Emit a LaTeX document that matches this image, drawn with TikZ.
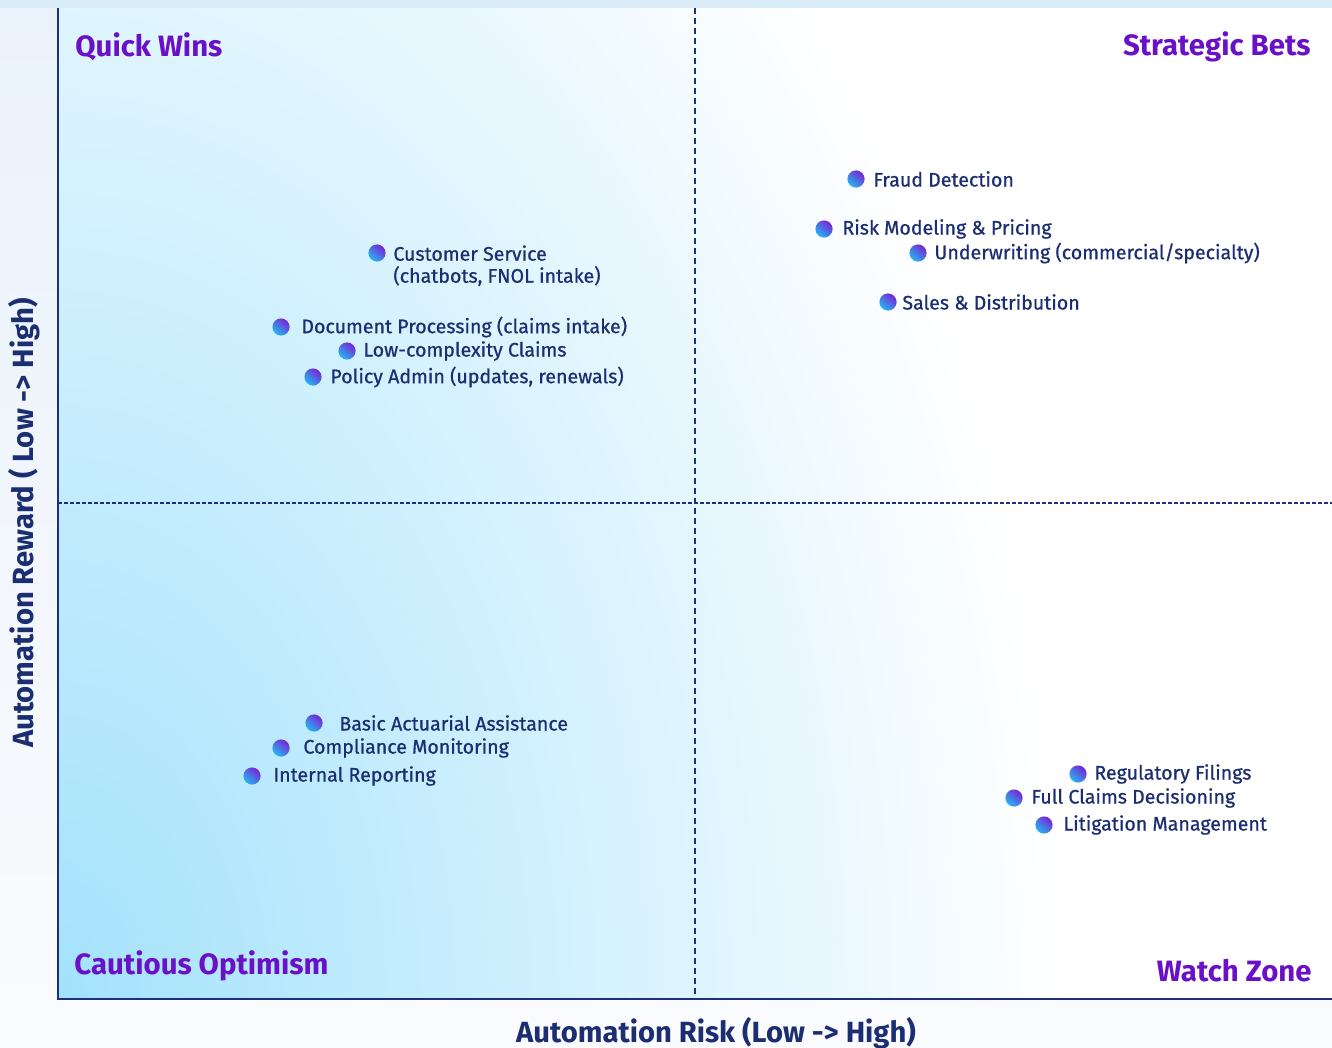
\documentclass[tikz,border=0pt]{standalone}
\usepackage{fontspec}
\setmainfont{Fira Sans}
\usepackage{tikz}
\usetikzlibrary{positioning, arrows.meta, fit, shapes}

\definecolor{navy}{HTML}{1B2E72}
\definecolor{linenavy}{HTML}{1E2F7E}
\definecolor{quadpurple}{HTML}{6A10C6}
\definecolor{skyfill}{HTML}{A3E2FC}
\definecolor{pagetop}{HTML}{EAF2FB}
\definecolor{pagebot}{HTML}{FAFBFE}
\definecolor{topband}{HTML}{D9ECF8}
\definecolor{dotcyan}{HTML}{22B8F2}
\definecolor{dotpurple}{HTML}{7B22D4}

\tikzset{
    bubble/.style={circle, inner sep=0pt, minimum size=8.6pt, top color=dotpurple, bottom color=dotcyan, shading angle=-40},
    item/.style={anchor=west, inner sep=0pt, text=navy, font=\fontsize{9.8}{11}\selectfont\addfontfeatures{FakeBold=0.7}},
    quadtitle/.style={inner sep=0pt, text=quadpurple, font=\fontsize{14.7}{16}\selectfont\bfseries},
    axislabel/.style={inner sep=0pt, text=navy, font=\fontsize{14.6}{17}\selectfont\bfseries}
}

\begin{document}
\begin{tikzpicture}[x=0.5pt, y=-0.5pt]
        \useasboundingbox (0,0) rectangle (1332,1048);
        \shade[top color=pagetop, bottom color=pagebot] (0,0) rectangle (1332,1048);

        % plot area
        \begin{scope}
            \clip (58,8) rectangle (1332,999);
            \fill[white] (58,8) rectangle (1332,999);
            \shade[inner color=skyfill, outer color=white] (58,999) ellipse [x radius=1000, y radius=1500];
        \end{scope}
        \fill[topband] (0,0) rectangle (1332,8);

        \coordinate (origin) at (58,999);
        \coordinate (ytop) at (58,8);
        \coordinate (xend) at (1332,999);
        \coordinate (midtop) at (695,8);
        \coordinate (midbot) at (695,999);
        \coordinate (midleft) at (58,503);
        \coordinate (midright) at (1332,503);

        \draw[linenavy, line width=1.1pt, dash pattern=on 2pt off 1pt] (midleft) -- (midright);
        \draw[linenavy, line width=1.1pt, dash pattern=on 3pt off 2pt] (midtop) -- (midbot);
        \draw[linenavy, line width=1.3pt] (ytop) -- (origin) -- (xend);

        \foreach \dx/\dy/\tx/\name/\txt in {
                281/327/301/docproc/{Document Processing (claims intake)},
                347/351/363/lowclaims/{Low-complexity Claims},
                313/377/330/policy/{Policy Admin (updates, renewals)},
                856/179/873/fraud/{Fraud Detection},
                824/229/842/riskmod/{Risk Modeling \& Pricing},
                918/253/934/underwr/{Underwriting (commercial/specialty)},
                888/302/902/sales/{Sales \& Distribution},
                314/723/339/actuarial/{Basic Actuarial Assistance},
                281/748/303/compliance/{Compliance Monitoring},
                252/776/273/reporting/{Internal Reporting},
                1078/774/1094/regfil/{Regulatory Filings},
                1014/798/1031/fullclaims/{Full Claims Decisioning},
                1044/825/1063/litigation/{Litigation Management}}{
                \node[bubble] (\name-dot) at (\dx,\dy) {};
                \node[item] (\name) at (\tx,\dy) {\txt};
            }

        \node[bubble] (custserv-dot) at (377,253) {};
        \node[item, anchor=north west, align=left] (custserv) at (393,245) {Customer Service\\(chatbots, FNOL intake)};

        % quadrant titles
        \node[quadtitle, anchor=west] (quickwins) at (75,47) {Quick Wins};
        \node[quadtitle, anchor=east] (strategic) at (1311,47) {Strategic Bets};
        \node[quadtitle, anchor=west] (cautious) at (74,966) {Cautious Optimism};
        \node[quadtitle, anchor=east] (watch) at (1312,971) {Watch Zone};

        % axis labels
        \node[axislabel] (xlabel) at (716,1033) {Automation Risk (Low -> High)};
        \node[axislabel, rotate=90] (ylabel) at (24,523) {Automation Reward ( Low -> High)};

    \end{tikzpicture}
\end{document}
